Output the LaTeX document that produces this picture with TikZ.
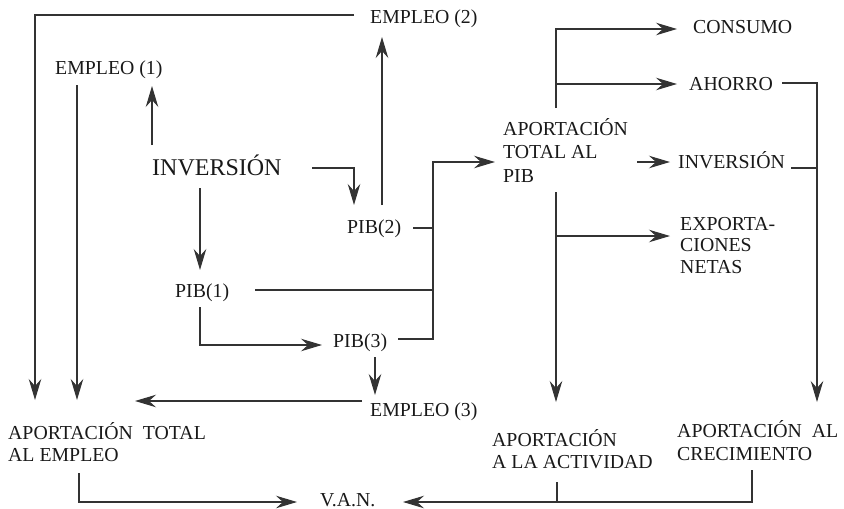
\documentclass[tikz,border=0pt]{standalone}
\usepackage{fontspec}
\setmainfont{Liberation Serif}
\usetikzlibrary{arrows.meta}
\begin{document}
\begin{tikzpicture}[x=1pt,y=-1pt,
  lab/.style={anchor=base west,inner sep=0pt,font=\fontsize{19.8}{23}\selectfont,text=black!90},
  big/.style={anchor=base west,inner sep=0pt,font=\fontsize{24}{28}\selectfont,text=black!90},
  ln/.style={line width=1.1pt,draw=black!80},
  arr/.style={ln,-{Stealth[length=21pt,width=12.5pt,inset=7pt]}}]
\useasboundingbox (0,0) rectangle (844,509);
% text nodes
\node[lab] (e2) at (370,23) {EMPLEO (2)};
\node[lab] (e1) at (55,74) {EMPLEO (1)};
\node[big] (inv) at (152,175) {INVERSIÓN};
\node[lab] (pib1) at (175,297) {PIB(1)};
\node[lab] (pib2) at (347,233) {PIB(2)};
\node[lab] (pib3) at (333,347) {PIB(3)};
\node[lab] (e3) at (370,416) {EMPLEO (3)};
\node[lab] (atp1) at (503,135) {APORTACIÓN};
\node[lab] (atp2) at (503,158.5) {TOTAL AL};
\node[lab] (atp3) at (503,182) {PIB};
\node[lab] (cons) at (693,33) {CONSUMO};
\node[lab] (aho) at (689,90) {AHORRO};
\node[lab] (inv2) at (678,168) {INVERSIÓN};
\node[lab] (exp1) at (680,230) {EXPORTA-};
\node[lab] (exp2) at (680,251.5) {CIONES};
\node[lab] (exp3) at (680,273) {NETAS};
\node[lab] (ate1) at (8,439) {APORTACIÓN\ \ TOTAL};
\node[lab] (ate2) at (8,461) {AL EMPLEO};
\node[lab] (aa1) at (492,446) {APORTACIÓN};
\node[lab] (aa2) at (492,468) {A LA ACTIVIDAD};
\node[lab] (ac1) at (677,437) {APORTACIÓN\ \ AL};
\node[lab] (ac2) at (677,460) {CRECIMIENTO};
\node[lab] (van) at (320,506) {V.A.N.};
% connectors
\draw[arr] (354,15) -- (35,15) -- (35,400);
\draw[arr] (77,85) -- (77,400);
\draw[arr] (152,145) -- (152,86);
\draw[arr] (200,188) -- (200,270);
\draw[arr] (312,168) -- (354,168) -- (354,205);
\draw[arr] (382,205) -- (382,37);
\draw[ln] (255,290) -- (432,290);
\draw[arr] (200,307) -- (200,345) -- (322,345);
\draw[arr] (398,339) -- (433,339) -- (433,162) -- (495,162);
\draw[ln] (413,228) -- (433,228);
\draw[arr] (556,108) -- (556,29) -- (677,29);
\draw[arr] (556,84) -- (677,84);
\draw[arr] (782,83) -- (817,83) -- (817,402);
\draw[ln] (791,168) -- (817,168);
\draw[arr] (637,162) -- (670,162);
\draw[arr] (556,192) -- (556,402);
\draw[arr] (556,236) -- (670,236);
\draw[arr] (375,357) -- (375,395);
\draw[arr] (362,401) -- (135,401);
\draw[arr] (79,473) -- (79,502) -- (297,502);
\draw[arr] (752,470) -- (752,502) -- (403,502);
\draw[ln] (557,482) -- (557,502);
\end{tikzpicture}
\end{document}
